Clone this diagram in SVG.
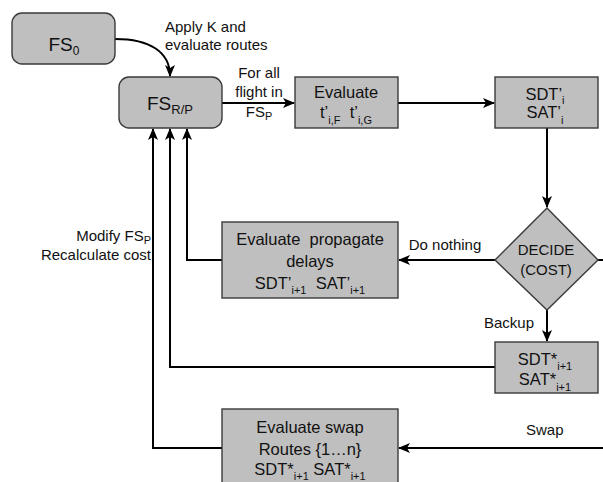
<svg xmlns="http://www.w3.org/2000/svg" width="603" height="482" viewBox="0 0 603 482">
<style>
text{font-family:"Liberation Sans",Arial,sans-serif;fill:#111;white-space:pre;}
.bx{fill:#bfbfbf;stroke:#3a3a3a;stroke-width:1.4;}
.t{font-size:16.5px;text-anchor:middle;}
.fs{font-size:19px;text-anchor:middle;}
.lb{font-size:15px;}
.c{font-size:15px;text-anchor:middle;}
.s{font-size:11px;}
.cn{fill:none;stroke:#000;stroke-width:2;}
</style>
<defs>
<marker id="ah" viewBox="0 0 12 10" refX="11" refY="5" markerWidth="12" markerHeight="10" markerUnits="userSpaceOnUse" orient="auto">
<path d="M0,0 L12,5 L0,10 L3,5 z" fill="#000"/>
</marker>
</defs>
<g id="connectors">
<path class="cn" d="M115,39 C150,39 170,52 170,76" marker-end="url(#ah)"/>
<path class="cn" d="M222,103 H294" marker-end="url(#ah)"/>
<path class="cn" d="M398,103 H494" marker-end="url(#ah)"/>
<path class="cn" d="M547,128 V207" marker-end="url(#ah)"/>
<path class="cn" d="M495,260 H399" marker-end="url(#ah)"/>
<path class="cn" d="M222,260 H187 V129" marker-end="url(#ah)"/>
<path class="cn" d="M547,310 V341" marker-end="url(#ah)"/>
<path class="cn" d="M495,367 H170 V129" marker-end="url(#ah)"/>
<path class="cn" d="M222,448 H153 V129" marker-end="url(#ah)"/>
<path class="cn" d="M598,260 H603"/>
<path class="cn" d="M603,448 H399" marker-end="url(#ah)"/>
<text class="lb" x="165" y="32">Apply K and</text>
<text class="lb" x="165" y="50">evaluate routes</text>
<text class="c" x="259" y="78">For all</text>
<text class="c" x="259" y="97">flight in</text>
<text class="c" x="259" y="117">FS<tspan class="s" dy="3">P</tspan></text>
<text class="lb" x="151" y="241" text-anchor="end">Modify FS<tspan class="s" dy="3">P</tspan></text>
<text class="lb" x="151" y="260" text-anchor="end">Recalculate cost</text>
<text class="c" x="445" y="250">Do nothing</text>
<text class="lb" x="534" y="328" text-anchor="end">Backup</text>
<text class="lb" x="526" y="435">Swap</text>
</g>
<g id="fs0">
<rect class="bx" x="12" y="13" width="103" height="51" rx="10"/>
<text class="fs" x="64" y="51">FS<tspan font-size="12" dy="4">0</tspan></text>
</g>
<g id="fsrp">
<rect class="bx" x="119" y="77" width="103" height="51" rx="10"/>
<text class="fs" x="170" y="110">FS<tspan font-size="13" dy="4">R/P</tspan></text>
</g>
<g id="evaluate">
<rect class="bx" x="295" y="77" width="103" height="51"/>
<text class="t" x="346" y="98">Evaluate</text>
<text class="t" x="346" y="118">t’<tspan class="s" dy="6">i,F</tspan><tspan dy="-6">  t’</tspan><tspan class="s" dy="6">i,G</tspan></text>
</g>
<g id="sdt1">
<rect class="bx" x="495" y="77" width="103" height="51"/>
<text class="t" x="545" y="100">SDT’<tspan class="s" dy="4">i</tspan></text>
<text class="t" x="545" y="118">SAT’<tspan class="s" dy="6">i</tspan></text>
</g>
<g id="decide">
<path class="bx" d="M547,208 L598,260 L547,310 L495,260 Z"/>
<text class="c" x="546" y="255">DECIDE</text>
<text class="c" x="546" y="275">(COST)</text>
</g>
<g id="propagate">
<rect class="bx" x="222" y="222" width="176" height="76"/>
<text class="t" x="310" y="245">Evaluate  propagate</text>
<text class="t" x="310" y="267">delays</text>
<text class="t" x="310" y="289">SDT’<tspan class="s" dy="5">i+1</tspan><tspan dy="-5">  SAT’</tspan><tspan class="s" dy="5">i+1</tspan></text>
</g>
<g id="sdt2">
<rect class="bx" x="495" y="342" width="103" height="51"/>
<text class="t" x="545" y="365">SDT*<tspan class="s" dy="5">i+1</tspan></text>
<text class="t" x="545" y="385">SAT*<tspan class="s" dy="6">i+1</tspan></text>
</g>
<g id="swap">
<rect class="bx" x="222" y="409" width="176" height="80"/>
<text class="t" x="310" y="433">Evaluate swap</text>
<text class="t" x="310" y="455">Routes {1…n}</text>
<text class="t" x="310" y="475">SDT*<tspan class="s" dy="5">i+1</tspan><tspan dy="-5"> SAT*</tspan><tspan class="s" dy="5">i+1</tspan></text>
</g>
</svg>
